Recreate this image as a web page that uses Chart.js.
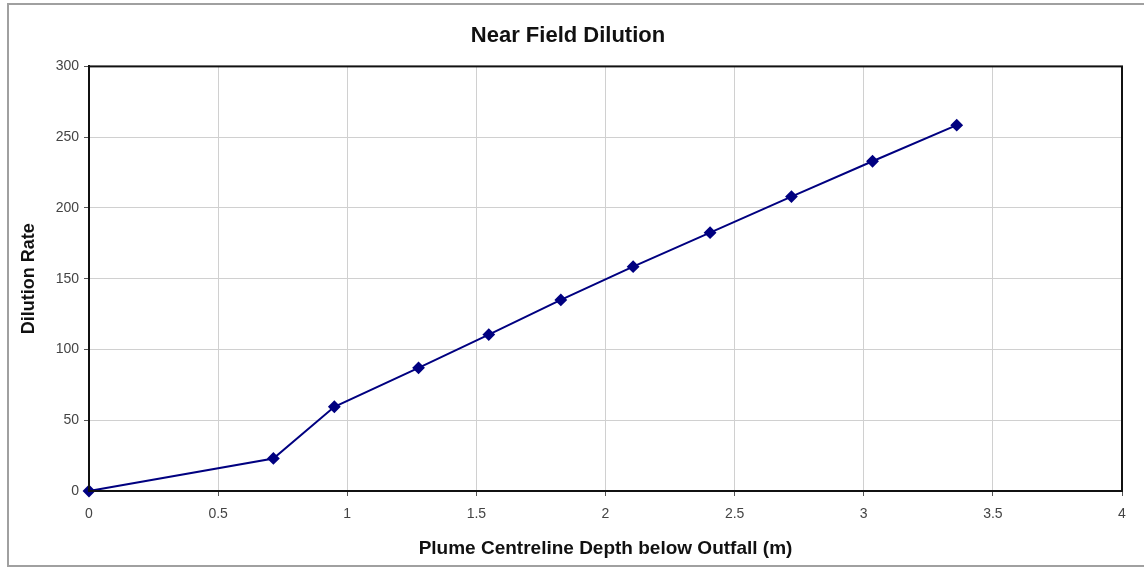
<!DOCTYPE html>
<html lang="en">
<head>
    <meta charset="UTF-8">
    <title>Near Field Dilution</title>
    <script src="https://cdn.jsdelivr.net/npm/chart.js@4.4.1/dist/chart.umd.min.js"></script>
    <style>
        html, body { margin: 0; padding: 0; background: #fff; }
        #box { width: 1144px; height: 569px; position: relative; }
    </style>
</head>
<body>
    <div id="box"><canvas id="grafico"></canvas></div>

    <script>
        // depth below outfall (m) and dilution rate
        const depth = [0, 0.714, 0.95, 1.276, 1.548, 1.827, 2.107, 2.405, 2.72, 3.034, 3.36];
        const dilution = [0, 23, 59.5, 87, 110.5, 135, 158.5, 182.5, 208, 233, 258.5];
        const xTicks = [0, 0.5, 1, 1.5, 2, 2.5, 3, 3.5, 4];
        const yTicks = [0, 50, 100, 150, 200, 250, 300];

        const points = depth.map((d, i) => ({ x: d, y: dilution[i] }));
        const fam = 'Arial, "Liberation Sans", sans-serif';

        // outer frame + black border round the plot area
        const frames = {
            id: 'frames',
            beforeDraw(chart) {
                const ctx = chart.ctx;
                ctx.save();
                ctx.fillStyle = '#fff';
                ctx.fillRect(0, 0, chart.width, chart.height);
                ctx.strokeStyle = '#a0a0a0';
                ctx.lineWidth = 2;
                ctx.strokeRect(8, 4, chart.width + 10, 562);
                ctx.restore();
            },
            afterDatasetsDraw(chart) {
                const a = chart.chartArea;
                const ctx = chart.ctx;
                ctx.save();
                ctx.strokeStyle = '#111';
                ctx.lineWidth = 2;
                ctx.strokeRect(a.left, a.top, a.right - a.left, a.bottom - a.top);
                ctx.restore();
            }
        };

        new Chart(document.getElementById('grafico'), {
            type: 'scatter',
            data: {
                datasets: [{
                    data: points,
                    showLine: true,
                    borderColor: '#000080',
                    backgroundColor: '#000080',
                    borderWidth: 2,
                    pointStyle: 'rectRot',
                    pointRadius: 5,
                    pointHoverRadius: 5,
                    clip: false
                }]
            },
            options: {
                responsive: true,
                maintainAspectRatio: false,
                animation: false,
                layout: { padding: { left: 14, right: 22, top: 8, bottom: 8 } },
                plugins: {
                    legend: { display: false },
                    tooltip: { enabled: false },
                    title: {
                        display: true,
                        text: 'Near Field Dilution',
                        color: '#111',
                        font: { family: fam, size: 22, weight: 'bold' },
                        padding: { top: 15, bottom: 17 }
                    }
                },
                scales: {
                    x: {
                        type: 'linear',
                        min: 0,
                        max: 4,
                        afterBuildTicks: s => { s.ticks = xTicks.map(v => ({ value: v })); },
                        afterFit: s => { s.height = 70; },
                        grid: { color: '#d0d0d0', lineWidth: 1, tickLength: 5, tickColor: '#555' },
                        border: { color: '#111', width: 2 },
                        ticks: {
                            color: '#444',
                            font: { family: fam, size: 14 },
                            padding: 10,
                            maxRotation: 0,
                            callback: v => String(v)
                        },
                        title: {
                            display: true,
                            text: 'Plume Centreline Depth below Outfall (m)',
                            color: '#111',
                            font: { family: fam, size: 19, weight: 'bold' },
                            padding: { top: 4, bottom: 1 }
                        }
                    },
                    y: {
                        min: 0,
                        max: 300,
                        afterBuildTicks: s => { s.ticks = yTicks.map(v => ({ value: v })); },
                        afterFit: s => { s.width = 75; },
                        grid: { color: '#d0d0d0', lineWidth: 1, tickLength: 5, tickColor: '#555' },
                        border: { color: '#111', width: 2 },
                        ticks: {
                            color: '#444',
                            font: { family: fam, size: 14 },
                            padding: 5,
                            callback: v => String(v)
                        },
                        title: {
                            display: true,
                            text: 'Dilution Rate',
                            color: '#111',
                            font: { family: fam, size: 18, weight: 'bold' },
                            padding: { top: 4, bottom: 0 }
                        }
                    }
                }
            },
            plugins: [frames]
        });
    </script>
</body>
</html>
